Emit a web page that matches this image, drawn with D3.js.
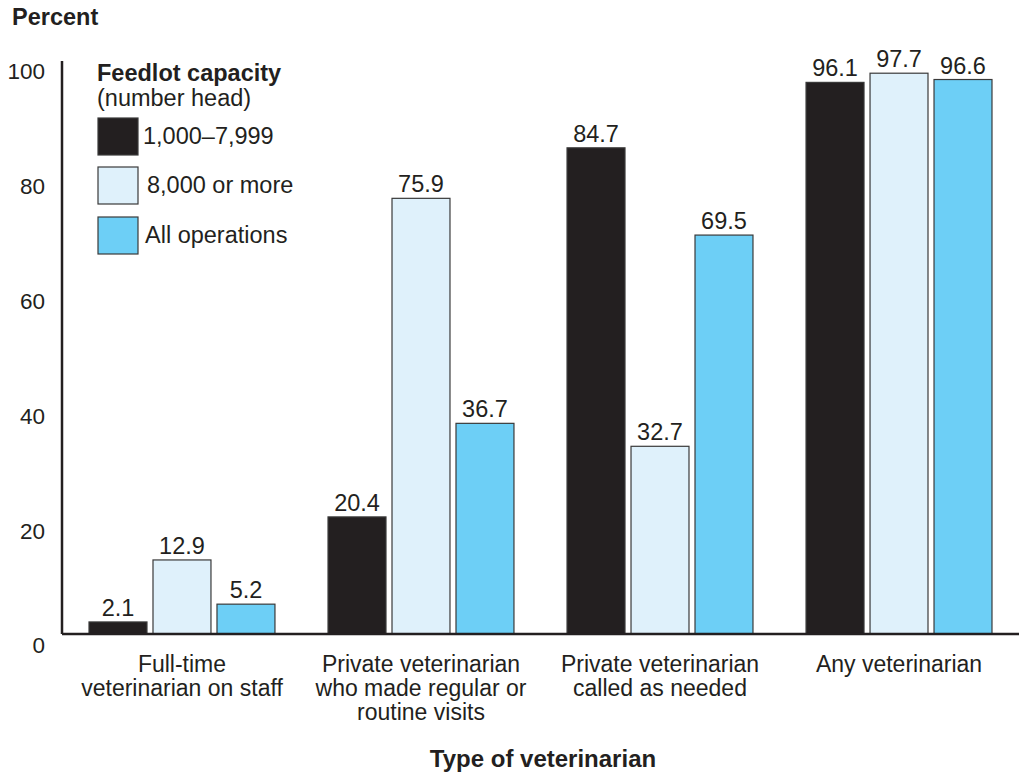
<!DOCTYPE html>
<html><head><meta charset="utf-8">
<script src="https://cdn.jsdelivr.net/npm/d3@7"></script>
<style>body{margin:0;background:#fff;} text{font-family:"Liberation Sans",Arial,sans-serif;fill:#231f20;}</style>
</head><body>
<svg id="c" width="1021" height="780"></svg>
<script>
const categories = [
  ["Full-time", "veterinarian on staff"],
  ["Private veterinarian", "who made regular or", "routine visits"],
  ["Private veterinarian", "called as needed"],
  ["Any veterinarian"]
];
const seriesNames = ["1,000\u20137,999", "8,000 or more", "All operations"];
const small = [2.1, 20.4, 84.7, 96.1];
const large = [12.9, 75.9, 32.7, 97.7];
const allOps = [5.2, 36.7, 69.5, 96.6];
const yTicks = [0, 20, 40, 60, 80, 100];
const colors = ["#231f20", "#dff1fb", "#6dcff6"];

const series = [small, large, allOps];
const FS = 23.5;
const svg = d3.select("#c");
const x0 = 62, x1 = 1019, yBase = 634, yTop = 60;
const y = d3.scaleLinear().domain([0, 100]).range([yBase, yTop]);
const xg = d3.scaleBand().domain(d3.range(categories.length)).range([x0, x1]).paddingInner(0.222).paddingOuter(0.113);
const xs = d3.scaleBand().domain(d3.range(series.length)).range([0, xg.bandwidth()]).paddingInner(0.094);

// y axis labels (no ticks)
const yAxis = d3.axisLeft(y).tickValues(yTicks).tickSize(0).tickPadding(17);
const ya = svg.append("g").attr("transform", `translate(${x0},0)`).call(yAxis);
ya.select(".domain").remove();
ya.selectAll("text").attr("font-size", 22.5).attr("dy", "0.35em").attr("transform", "translate(0,11)")
  .style("fill", "#231f20").attr("font-family", "Liberation Sans, Arial, sans-serif");

// bars
categories.forEach((c, gi) => {
  const g = svg.append("g").attr("transform", `translate(${xg(gi)},0)`);
  series.forEach((s, si) => {
    const v = s[gi];
    g.append("rect").attr("x", xs(si)).attr("width", xs.bandwidth())
      .attr("y", y(v)).attr("height", y(0) - y(v))
      .attr("fill", colors[si]).attr("stroke", "#3a3a3a").attr("stroke-width", 1.2);
    g.append("text").attr("x", xs(si) + xs.bandwidth() / 2).attr("y", y(v) - 6)
      .attr("text-anchor", "middle").attr("font-size", FS).text(v.toFixed(1));
  });
  c.forEach((line, li) => {
    g.append("text").attr("x", xg.bandwidth() / 2).attr("y", 672 + li * 24)
      .attr("text-anchor", "middle").attr("font-size", 23).text(line);
  });
});

// axis lines
svg.append("line").attr("x1", x0).attr("x2", x0).attr("y1", yTop + 1).attr("y2", yBase).attr("stroke", "#231f20").attr("stroke-width", 2.5);
svg.append("line").attr("x1", x0).attr("x2", x1).attr("y1", yBase).attr("y2", yBase).attr("stroke", "#231f20").attr("stroke-width", 2.5);

// titles
svg.append("text").attr("x", 12).attr("y", 25).attr("font-size", FS).attr("font-weight", "bold").text("Percent");
svg.append("text").attr("x", 543).attr("y", 767).attr("text-anchor", "middle").attr("font-size", 24).attr("font-weight", "bold").text("Type of veterinarian");

// legend
const lg = svg.append("g");
lg.append("text").attr("x", 97).attr("y", 81).attr("font-size", FS).attr("font-weight", "bold").text("Feedlot capacity");
lg.append("text").attr("x", 97).attr("y", 106).attr("font-size", FS).text("(number head)");
const legY = [118, 167, 217];
const legTX = [143, 147, 145];
seriesNames.forEach((n, i) => {
  lg.append("rect").attr("x", 98).attr("y", legY[i]).attr("width", 40).attr("height", 37)
    .attr("fill", colors[i]).attr("stroke", "#3a3a3a").attr("stroke-width", 1.2);
  lg.append("text").attr("x", legTX[i]).attr("y", legY[i] + 26).attr("font-size", FS).text(n);
});
</script>
</body></html>
